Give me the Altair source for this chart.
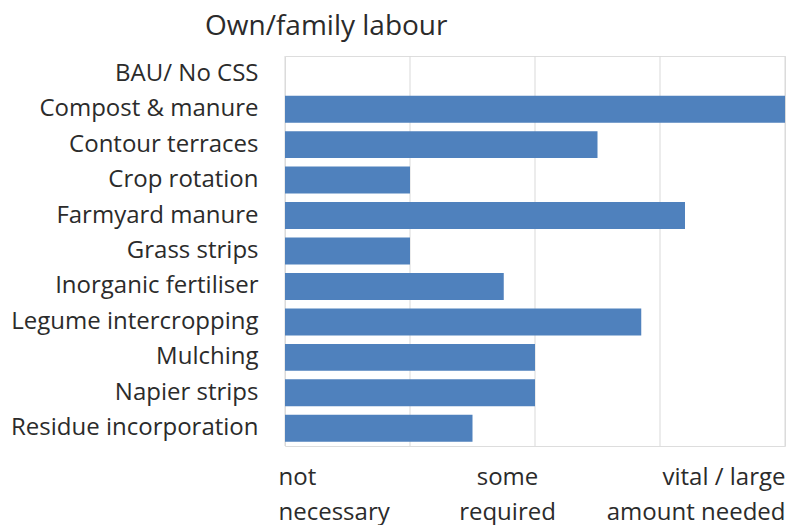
import altair as alt
import pandas as pd

# Practices and how much own/family labour each one needs (0 = not necessary, 4 = vital)
practices = [
    "BAU/ No CSS",
    "Compost & manure",
    "Contour terraces",
    "Crop rotation",
    "Farmyard manure",
    "Grass strips",
    "Inorganic fertiliser",
    "Legume intercropping",
    "Mulching",
    "Napier strips",
    "Residue incorporation",
]
labour = [0, 4, 2.5, 1, 3.2, 1, 1.75, 2.85, 2, 2, 1.5]

# Scale tick positions and their two-line labels
tick_values = [0, 2, 4]
tick_labels = [["not", "necessary"], ["some", "required"], ["vital / large", "amount needed"]]
grid_values = [0, 1, 2, 3, 4]

df = pd.DataFrame({"practice": practices, "labour": labour})
grid_df = pd.DataFrame({"g": grid_values})

FONT = "Open Sans"
TEXT = "#2b2b2b"
BAR = "#4F81BD"

label_expr = " : ".join(
    f"datum.value == {v} ? {lab!r}" for v, lab in zip(tick_values[:-1], tick_labels[:-1])
) + f" : {tick_labels[-1]!r}"

x_scale = alt.Scale(domain=[0, 4], nice=False, zero=True)
x_axis = alt.Axis(
    values=tick_values,
    labelExpr=label_expr,
    title=None,
    grid=False,
    domain=False,
    ticks=False,
    labelFlush=True,
    labelFont=FONT,
    labelFontSize=24,
    labelColor=TEXT,
    labelLineHeight=35,
    labelPadding=19,
    labelOffset={
        "condition": [
            {"test": "datum.value == 0", "value": -7},
            {"test": "datum.value == 2", "value": -28},
        ],
        "value": 0,
    },
)

grid = alt.Chart(grid_df).mark_rule(color="#d9d9d9", strokeWidth=1).encode(
    x=alt.X("g:Q", scale=x_scale, axis=x_axis),
)

bars = alt.Chart(df).mark_bar(color=BAR).encode(
    x=alt.X("labour:Q", scale=x_scale, axis=x_axis),
    y=alt.Y(
        "practice:N",
        sort=practices,
        scale=alt.Scale(paddingInner=0.24, paddingOuter=0.12),
        axis=alt.Axis(
            title=None,
            domain=False,
            ticks=False,
            labelFont=FONT,
            labelFontSize=24,
            labelColor=TEXT,
            labelPadding=27,
            labelLimit=300,
        ),
    ),
)

chart = (
    alt.layer(grid, bars)
    .properties(
        width=500,
        height=390,
        autosize=alt.AutoSizeParams(type="none"),
        padding={"left": 285, "top": 56, "right": 2, "bottom": 79},
        title=alt.TitleParams(
            "Own/family labour",
            anchor="start",
            frame="group",
            font=FONT,
            fontSize=28,
            fontWeight="normal",
            color=TEXT,
            dx=-80,
            offset=15,
        ),
    )
    .configure_view(stroke=None)
    .configure(background="white")
)

chart.save("out.html", embed_options={"renderer": "svg", "actions": False})
